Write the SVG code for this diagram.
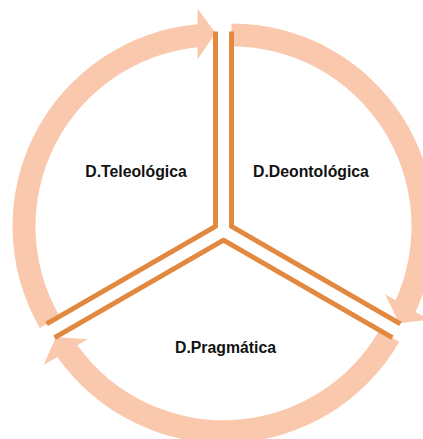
<svg xmlns="http://www.w3.org/2000/svg" width="423" height="439" viewBox="0 0 423 439">
<style>
.arrow{fill:#F9C8AD;stroke:none}
.edge{fill:none;stroke:#E2893F;stroke-width:5;stroke-linejoin:round;stroke-linecap:butt}
.lbl{font-family:"Liberation Sans",Arial,sans-serif;font-weight:bold;font-size:15.8px;fill:#111111;text-anchor:middle}
</style>
<rect width="423" height="439" fill="#FFFFFF"/>
<g id="connectors">
<path class="arrow" d="M 39.70 327.90 A 203 203 0 0 1 197.5 24.20 L 197.5 8.4 L 215.5 32.9 L 197.5 59.4 L 197.5 47.30 A 180 180 0 0 0 59.62 316.40 Z"/>
<path class="arrow" d="M 231.5 23.4 A 203 203 0 0 1 415.61 311.91 L 429.29 319.81 L 399.08 323.15 L 385.13 294.31 L 395.61 300.36 A 180 180 0 0 0 231.5 46.4 Z"/>
<path class="arrow" d="M 399.30 341.70 A 203 203 0 0 1 57.39 356.89 L 43.71 364.79 L 55.92 336.95 L 87.87 339.29 L 77.39 345.34 A 180 180 0 0 0 379.38 330.20 Z"/>
</g>
<g id="node-teleologica">
<polyline class="edge" points="215.5,31.4 215.5,226.4 46.63,323.9"/>
<text class="lbl" x="136" y="177">D.Teleológica</text>
</g>
<g id="node-deontologica">
<polyline class="edge" points="231.5,31.4 231.5,226.4 400.37,323.9"/>
<text class="lbl" x="311" y="177">D.Deontológica</text>
</g>
<g id="node-pragmatica">
<polyline class="edge" points="54.63,337.7 223.5,240.2 392.37,337.7"/>
<text class="lbl" x="225.5" y="353">D.Pragmática</text>
</g>
</svg>
